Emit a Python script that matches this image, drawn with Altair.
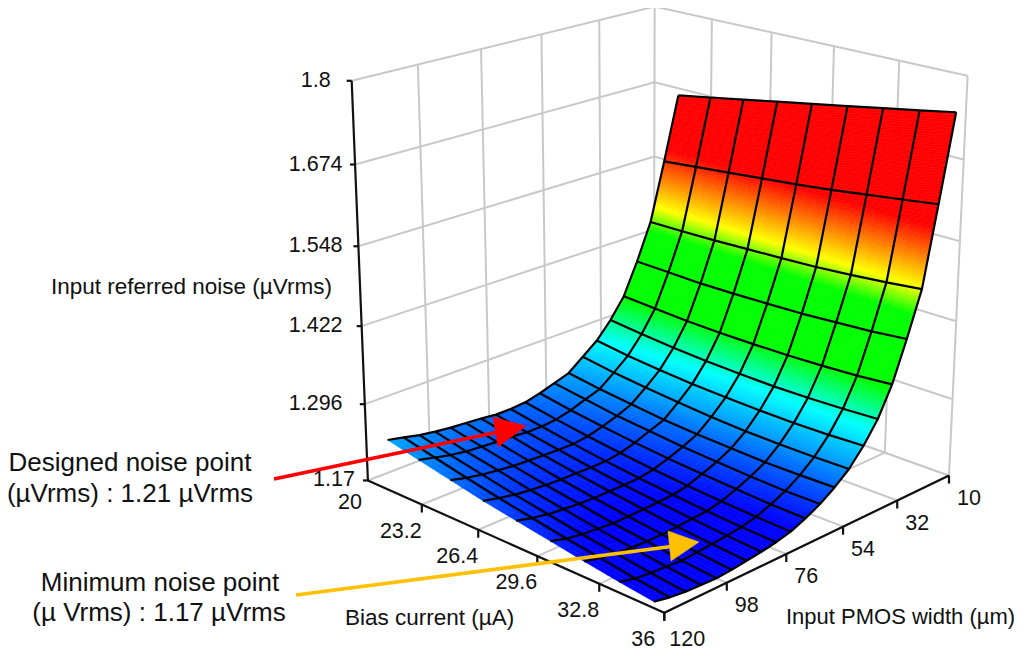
import math
import numpy as np
import altair as alt

# ---------- data ----------
U_TICKS = [20, 23.2, 26.4, 29.6, 32.8, 36]
V_TICKS = [120, 98, 76, 54, 32, 10]
Z_TICKS = [1.17, 1.296, 1.422, 1.548, 1.674, 1.8]
U_NODES = [21.3, 23.1, 24.9, 26.7, 28.5, 30.3, 32.05, 33.8, 35.5]
V_NODES = [9.5, 15.2, 20.7, 26.2, 31.6, 37, 42.5, 48.1, 53.7, 59.3, 64.9, 70.5, 76, 81.5, 87, 92.5, 98, 103.5, 109, 114.5, 120]
Z_00 = [1.661, 1.671, 1.681, 1.691, 1.701, 1.711, 1.721, 1.731, 1.741]
Z_01 = [1.557, 1.5625, 1.568, 1.5735, 1.579, 1.5855, 1.593, 1.6005, 1.608]
Z_02 = [1.461, 1.4615, 1.4625, 1.4645, 1.4665, 1.469, 1.473, 1.478, 1.484]
Z_03 = [1.401, 1.3996, 1.398, 1.3985, 1.3998, 1.4015, 1.405, 1.4085, 1.414]
Z_04 = [1.349, 1.3458, 1.3425, 1.3413, 1.341, 1.3418, 1.3435, 1.3463, 1.351]
Z_05 = [1.316, 1.3104, 1.3058, 1.3026, 1.3005, 1.2994, 1.3003, 1.3021, 1.305]
Z_06 = [1.289, 1.282, 1.277, 1.273, 1.2705, 1.269, 1.2685, 1.2695, 1.272]
Z_07 = [1.27, 1.2621, 1.2563, 1.2514, 1.2475, 1.2446, 1.2438, 1.2439, 1.245]
Z_08 = [1.251, 1.2433, 1.2375, 1.2318, 1.2285, 1.2263, 1.2245, 1.2248, 1.226]
Z_09 = [1.243, 1.2353, 1.2275, 1.2228, 1.2175, 1.2143, 1.2115, 1.2098, 1.21]
Z_10 = [1.235, 1.2263, 1.2195, 1.2133, 1.2085, 1.2048, 1.2015, 1.1988, 1.198]
Z_11 = [1.229, 1.2204, 1.2128, 1.2061, 1.2005, 1.1959, 1.1923, 1.1896, 1.188]
Z_12 = [1.227, 1.2179, 1.2098, 1.2026, 1.1965, 1.1914, 1.1873, 1.1841, 1.182]
Z_13 = [1.227, 1.2179, 1.2098, 1.2021, 1.1955, 1.1899, 1.1853, 1.1811, 1.178]
Z_14 = [1.23, 1.2204, 1.2108, 1.2026, 1.1955, 1.1889, 1.1833, 1.1786, 1.175]
Z_15 = [1.232, 1.2214, 1.2118, 1.2026, 1.195, 1.1879, 1.1823, 1.1766, 1.172]
Z_16 = [1.234, 1.2234, 1.2133, 1.2041, 1.196, 1.1879, 1.1818, 1.1746, 1.170]
Z_17 = [1.237, 1.2254, 1.2163, 1.2061, 1.198, 1.1899, 1.1828, 1.1766, 1.171]
Z_18 = [1.241, 1.2294, 1.2193, 1.2091, 1.2005, 1.1919, 1.1848, 1.1776, 1.172]
Z_19 = [1.247, 1.2354, 1.2243, 1.2141, 1.205, 1.1959, 1.1888, 1.1806, 1.175]
Z_20 = [1.2525, 1.2414, 1.2308, 1.2201, 1.2115, 1.2029, 1.1943, 1.1866, 1.18]
Z_GRID = [Z_00, Z_01, Z_02, Z_03, Z_04, Z_05, Z_06, Z_07, Z_08, Z_09, Z_10,
          Z_11, Z_12, Z_13, Z_14, Z_15, Z_16, Z_17, Z_18, Z_19, Z_20]

COLOR_Z = [1.17, 1.19, 1.245, 1.29, 1.345, 1.447, 1.485, 1.575, 1.8]
COLOR_RGB = ["#0000ff", "#0000ff", "#0096ff", "#00ffff", "#00ff00", "#00ff00", "#ffff00", "#ff0000", "#ff0000"]

# ---------- view: a perspective camera fitted to the box corners on the page ----------
MARGIN = 8
BOX = [((20, 120, 1.17), (367, 481)), ((20, 120, 1.8), (352, 81)),
       ((36, 10, 1.17), (948, 477)), ((36, 10, 1.8), (968, 75)),
       ((20, 10, 1.17), (655, 369)), ((20, 10, 1.8), (654, 7)),
       ((36, 120, 1.17), (665, 612))]


def norm(u, v, z):
    return (u - 20) / 16, (v - 10) / 110, (z - 1.17) / 0.63


rows, rhs = [], []
for (p, (px, py)) in BOX:
    a, b, c = norm(*p)
    rows.append([a, b, c, 1, 0, 0, 0, 0, -px * a, -px * b, -px * c])
    rhs.append(px)
    rows.append([0, 0, 0, 0, a, b, c, 1, -py * a, -py * b, -py * c])
    rhs.append(py)
sol = np.linalg.lstsq(np.array(rows, float), np.array(rhs, float), rcond=None)[0]
CAM = np.append(sol, 1.0).reshape(3, 4)


def project(u, v, z):
    a, b, c = norm(u, v, z)
    q = CAM @ np.array([a, b, c, 1.0])
    return [float(q[0] / q[2]) - MARGIN, float(q[1] / q[2]) - MARGIN]


def line(points):
    return {"type": "Feature", "properties": {},
            "geometry": {"type": "LineString", "coordinates": points}}


def polygon(points, **props):
    return {"type": "Feature", "properties": props,
            "geometry": {"type": "Polygon", "coordinates": [points + [points[0]]]}}


zlo, zhi = Z_TICKS[0], Z_TICKS[-1]

# ---------- walls and floor ----------
grid = []
for v in V_TICKS[1:]:
    grid.append(line([project(20, v, zlo), project(20, v, zhi)]))
    grid.append(line([project(20, v, zlo), project(36, v, zlo)]))
for u in U_TICKS[1:]:
    grid.append(line([project(u, 10, zlo), project(u, 10, zhi)]))
    grid.append(line([project(u, 10, zlo), project(u, 120, zlo)]))
for z in Z_TICKS:
    grid.append(line([project(20, 120, z), project(20, 10, z), project(36, 10, z)]))

# ---------- axes ----------
axes = [line([project(20, 120, zhi), project(20, 120, zlo), project(36, 120, zlo), project(36, 10, zlo)])]
labels_tick = []
z_label_x = project(20, 120, zhi)[0] - 36
for z in Z_TICKS:
    x, y = project(20, 120, z)
    axes.append(line([[x - 5, y], [x, y]]))
    labels_tick.append({"t": f"{z:g}", "x": z_label_x if z != zlo else x - 34, "y": y})
for u in U_TICKS:
    x, y = project(u, 120, zlo)
    if u != 20:
        axes.append(line([[x, y], [x, y + 8]]))
    labels_tick.append({"t": f"{u:g}", "x": x + (-18 if u == 20 else -21), "y": y + (23 if u == 20 else 27)})
for v in V_TICKS:
    x, y = project(36, v, zlo)
    axes.append(line([[x, y], [x, y + 8]]))
    labels_tick.append({"t": f"{v:g}", "x": x + (23 if v == 120 else 20), "y": y + (27 if v == 120 else 23)})

# ---------- surface ----------
cells = []
nj, ni = len(V_NODES), len(U_NODES)
for i in range(ni - 1):
    for j in range(nj - 1):
        z00, z10 = Z_GRID[j][i], Z_GRID[j][i + 1]
        z01, z11 = Z_GRID[j + 1][i], Z_GRID[j + 1][i + 1]
        sub_v = max(3, min(36, math.ceil(abs(project(U_NODES[i], V_NODES[j], z00)[1]
                                             - project(U_NODES[i], V_NODES[j + 1], z01)[1]) / 2.0)))
        sub_u = 3

        def node(a, b):
            uu = U_NODES[i] + (U_NODES[i + 1] - U_NODES[i]) * a
            vv = V_NODES[j] + (V_NODES[j + 1] - V_NODES[j]) * b
            zz = (z00 * (1 - a) + z10 * a) * (1 - b) + (z01 * (1 - a) + z11 * a) * b
            return uu, vv, zz

        for ka in range(sub_u):
            for kb in range(sub_v):
                a0, a1 = ka / sub_u, (ka + 1) / sub_u
                b0, b1 = kb / sub_v, (kb + 1) / sub_v
                quad = [project(*node(a0, b0)), project(*node(a1, b0)),
                        project(*node(a1, b1)), project(*node(a0, b1))]
                cells.append(polygon(quad, z=node((a0 + a1) / 2, (b0 + b1) / 2)[2]))

mesh = []
for j in range(nj - 1):
    mesh.append(line([project(U_NODES[i], V_NODES[j], Z_GRID[j][i]) for i in range(ni)]))
for i in range(ni):
    mesh.append(line([project(U_NODES[i], V_NODES[j], Z_GRID[j][i]) for j in range(nj)]))

color_scale = alt.Scale(domain=COLOR_Z, range=COLOR_RGB, interpolate="rgb", clamp=True)
ID = dict(type="identity", scale=1, translate=[0, 0])

grid_layer = alt.Chart(alt.Data(values=grid)).mark_geoshape(filled=False, stroke="#c8c8c8", strokeWidth=2).project(**ID)
axes_layer = alt.Chart(alt.Data(values=axes)).mark_geoshape(filled=False, stroke="#111111", strokeWidth=2.2).project(**ID)
surf_layer = alt.Chart(alt.Data(values=cells)).mark_geoshape(strokeWidth=0.6).encode(
    color=alt.Color("properties.z:Q", scale=color_scale, legend=None),
    stroke=alt.Stroke("properties.z:Q", scale=color_scale, legend=None),
).project(**ID)
mesh_layer = alt.Chart(alt.Data(values=mesh)).mark_geoshape(filled=False, stroke="#000000", strokeWidth=2.2, strokeJoin="round").project(**ID)


# ---------- arrows (page positions) ----------
def page(x, y):
    return [x - MARGIN, y - MARGIN]


RED_SHAFT = [page(274, 479), page(498, 432)]
RED_HEAD = [page(526, 426), page(493, 417), page(498, 447)]
ORANGE_SHAFT = [page(296, 595), page(675, 546)]
ORANGE_HEAD = [page(699, 542), page(668, 531), page(671, 561)]


def arrow(shaft, head, col):
    a = alt.Chart(alt.Data(values=[line(shaft)])).mark_geoshape(filled=False, stroke=col, strokeWidth=3.6).project(**ID)
    b = alt.Chart(alt.Data(values=[polygon(head)])).mark_geoshape(fill=col, stroke=col, strokeWidth=0.5).project(**ID)
    return [a, b]


# ---------- text ----------
FONT = "Liberation Sans"


def texts(rows_, size, align="center"):
    return alt.Chart(alt.Data(values=rows_)).mark_text(font=FONT, fontSize=size, align=align, baseline="middle", color="#111111").encode(
        longitude=alt.Longitude("x:Q"), latitude=alt.Latitude("y:Q"), text="t:N"
    ).project(**ID)


titles = [
    {"t": "Input referred noise (µVrms)", "x": 51 - MARGIN, "y": 287 - MARGIN},
    {"t": "Bias current (µA)", "x": 345 - MARGIN, "y": 618 - MARGIN},
]
title_right = [{"t": "Input PMOS width (µm)", "x": 786 - MARGIN, "y": 617 - MARGIN}]
notes = [
    {"t": "Designed noise point", "x": 130 - MARGIN, "y": 463 - MARGIN},
    {"t": "(µVrms) : 1.21 µVrms", "x": 130 - MARGIN, "y": 494 - MARGIN},
    {"t": "Minimum noise point", "x": 160 - MARGIN, "y": 583 - MARGIN},
    {"t": "(µ Vrms) : 1.17 µVrms", "x": 159 - MARGIN, "y": 613 - MARGIN},
]

layers = [grid_layer, axes_layer, surf_layer, mesh_layer]
layers += arrow(RED_SHAFT, RED_HEAD, "#ff0000") + arrow(ORANGE_SHAFT, ORANGE_HEAD, "#ffc000")
layers += [texts(labels_tick, 21.5), texts(titles, 22.5, "left"), texts(title_right, 22, "left"), texts(notes, 26)]

chart = alt.layer(*layers).properties(width=1008, height=642, padding=0).configure_view(stroke=None)
chart.save("out.html", embed_options={"renderer": "svg", "actions": False})
